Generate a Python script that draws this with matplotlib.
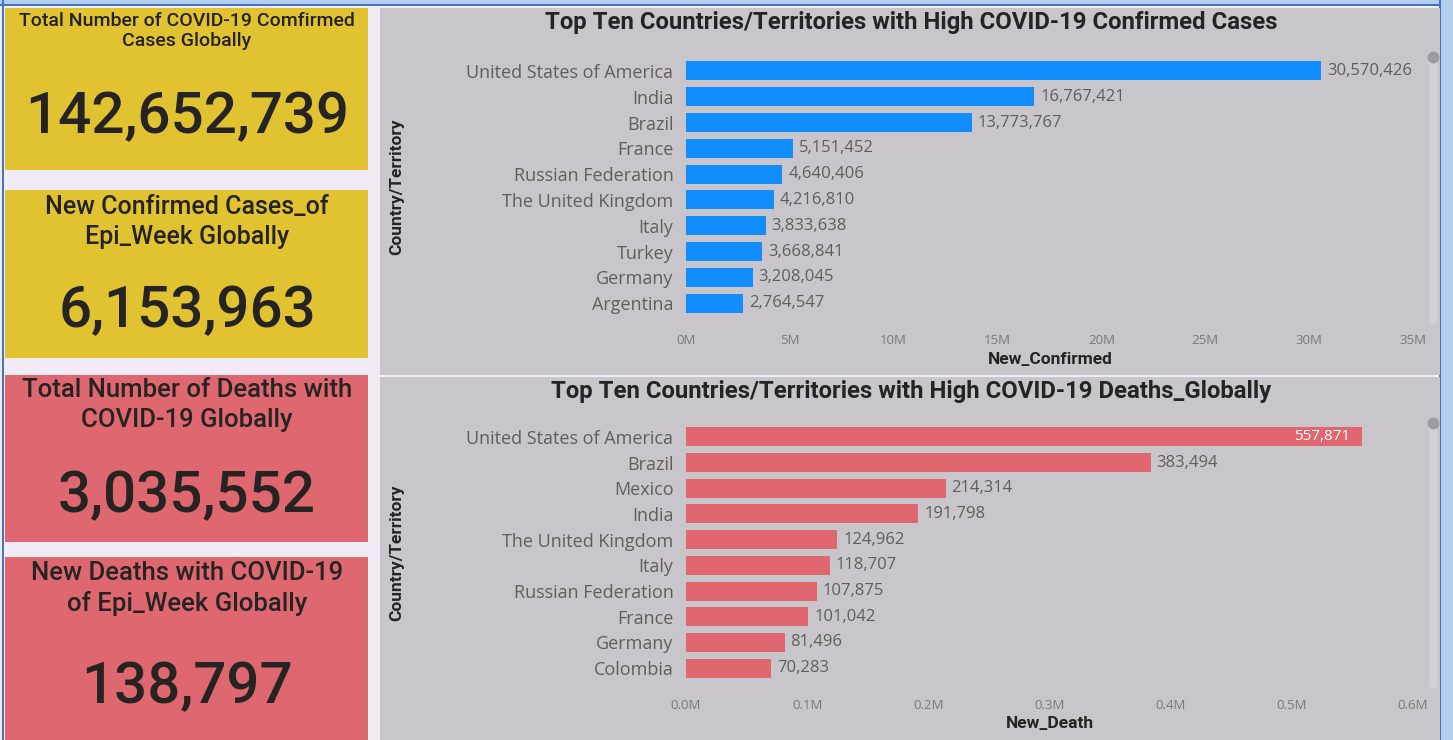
import matplotlib
matplotlib.use("Agg")
import matplotlib.pyplot as plt
from matplotlib.patches import Rectangle, FancyBboxPatch
from matplotlib.transforms import IdentityTransform

# ---- data ----
card_titles = [
    "Total Number of COVID-19 Comfirmed\nCases Globally",
    "New Confirmed Cases_of\nEpi_Week Globally",
    "Total Number of Deaths with\nCOVID-19 Globally",
    "New Deaths with COVID-19\nof Epi_Week Globally",
]
card_values = [142652739, 6153963, 3035552, 138797]

confirmed_countries = ["United States of America", "India", "Brazil", "France",
                       "Russian Federation", "The United Kingdom", "Italy",
                       "Turkey", "Germany", "Argentina"]
confirmed_values = [30570426, 16767421, 13773767, 5151452, 4640406,
                    4216810, 3833638, 3668841, 3208045, 2764547]
confirmed_ticks = [0, 5e6, 10e6, 15e6, 20e6, 25e6, 30e6, 35e6]
confirmed_ticklabels = ["0M", "5M", "10M", "15M", "20M", "25M", "30M", "35M"]

death_countries = ["United States of America", "Brazil", "Mexico", "India",
                   "The United Kingdom", "Italy", "Russian Federation",
                   "France", "Germany", "Colombia"]
death_values = [557871, 383494, 214314, 191798, 124962,
                118707, 107875, 101042, 81496, 70283]
death_ticks = [0, 1e5, 2e5, 3e5, 4e5, 5e5, 6e5]
death_ticklabels = ["0.0M", "0.1M", "0.2M", "0.3M", "0.4M", "0.5M", "0.6M"]

W, H = 1453, 740
BG = "#F0EBF5"
PANEL = "#C8C6CA"
YELLOW = "#E1C230"
RED = "#DF6870"
BLUE = "#118DFF"
DARK = "#252423"
LABEL = "#605E5C"
TICK = "#7A7878"

TITLE_FONT = ["Roboto", "DejaVu Sans"]
LABEL_FONT = ["Open Sans", "DejaVu Sans"]

fig = plt.figure(figsize=(W / 100, H / 100), dpi=100)
fig.patch.set_facecolor(BG)


def rect_px(x0, y0, x1, y1, color, z=0):
    fig.patches.append(Rectangle((x0 / W, 1 - y1 / H), (x1 - x0) / W, (y1 - y0) / H,
                                 transform=fig.transFigure, facecolor=color,
                                 edgecolor="none", zorder=z))


def text_px(x, y, s, **kw):
    fig.text(x / W, 1 - y / H, s, **kw)


# frame
rect_px(0, 0, W, 5, "#B4CFEE")
rect_px(0, 4, W, 6, "#4472C4")
rect_px(1440, 0, W, H, "#B4CFEE")
rect_px(1439, 0, 1441, H, "#4472C4")
rect_px(2, 0, 4, H, "#4472C4")

# ---- KPI cards ----
cards = [(8, 170, YELLOW), (190, 358, YELLOW), (375, 542, RED), (557, 740, RED)]
title_sizes = [14, 18, 18.5, 18.5]
title_y = [31, 222, 405, 589]
value_y = [118, 312, 497, 688]
for i, (y0, y1, col) in enumerate(cards):
    rect_px(5, y0, 368, y1, col)
    text_px(187, title_y[i], card_titles[i], ha="center", va="center",
            fontsize=title_sizes[i], color=DARK, family=TITLE_FONT,
            fontweight="medium", linespacing=1.3 if i else 1.2)
    text_px(187, value_y[i], f"{card_values[i]:,}", ha="center", va="center",
            fontsize=42, color=DARK, family=TITLE_FONT, fontweight="medium")

# ---- chart panels ----
rect_px(380, 8, 1440, 375, PANEL)
rect_px(380, 377, 1440, 740, PANEL)


def bar_chart(top, bottom, countries, values, color, ticks, ticklabels,
              xmax, title, title_y, xlabel, xlabel_y, inside_first):
    left, right = 686, 1413
    ax = fig.add_axes([left / W, 1 - bottom / H, (right - left) / W, (bottom - top) / H])
    ax.set_zorder(5)
    ax.set_facecolor("none")
    ypos = list(range(len(countries)))
    ax.barh(ypos, values, height=0.74, color=color)
    ax.set_ylim(len(countries) - 0.5, -0.5)
    ax.set_xlim(0, xmax)
    ax.set_yticks(ypos)
    ax.set_yticklabels(countries, fontsize=13, color=LABEL, family=LABEL_FONT)
    ax.set_xticks(ticks)
    ax.set_xticklabels(ticklabels, fontsize=9.5, color=TICK, family=LABEL_FONT)
    ax.tick_params(axis="y", length=0, pad=9)
    ax.tick_params(axis="x", length=0, pad=13)
    for s in ax.spines.values():
        s.set_visible(False)
    for i, v in enumerate(values):
        if i == 0 and inside_first:
            ax.text(v - xmax * 0.016, i, f"{v:,}", ha="right", va="center",
                    fontsize=11, color="white", family=LABEL_FONT)
        else:
            ax.text(v + xmax * 0.008, i, f"{v:,}", ha="left", va="center",
                    fontsize=12, color=LABEL, family=LABEL_FONT)
    text_px(911, title_y, title, ha="center", va="center", fontsize=17.2,
            fontweight="bold", color=DARK, family=TITLE_FONT)
    text_px(1050, xlabel_y, xlabel, ha="center", va="center", fontsize=12.5,
            fontweight="bold", color=DARK, family=TITLE_FONT)
    text_px(397, (top + bottom) / 2, "Country/Territory", ha="center", va="center",
            rotation=90, fontsize=12.5, fontweight="bold", color=DARK, family=TITLE_FONT)
    # scrollbar (drawn in output pixels)
    track = FancyBboxPatch((1429, H - (bottom + 8)), 8, bottom - top + 10,
                           boxstyle="round,pad=0,rounding_size=4",
                           transform=IdentityTransform(), facecolor="#D3D1D5",
                           edgecolor="none", zorder=1)
    fig.patches.append(track)
    fig.add_artist(plt.Line2D([1433], [H - (top - 1)], marker="o", markersize=7.5,
                              color="#9E9C9F", transform=IdentityTransform(),
                              zorder=2))
    return ax


bar_chart(58, 316, confirmed_countries, confirmed_values, BLUE,
          confirmed_ticks, confirmed_ticklabels, 35e6,
          "Top Ten Countries/Territories with High COVID-19 Confirmed Cases", 23,
          "New_Confirmed", 359, False)
bar_chart(424, 681, death_countries, death_values, "#E0666F",
          death_ticks, death_ticklabels, 6e5,
          "Top Ten Countries/Territories with High COVID-19 Deaths_Globally", 391,
          "New_Death", 723, True)

fig.savefig("out.png", dpi=100, facecolor=fig.get_facecolor())
